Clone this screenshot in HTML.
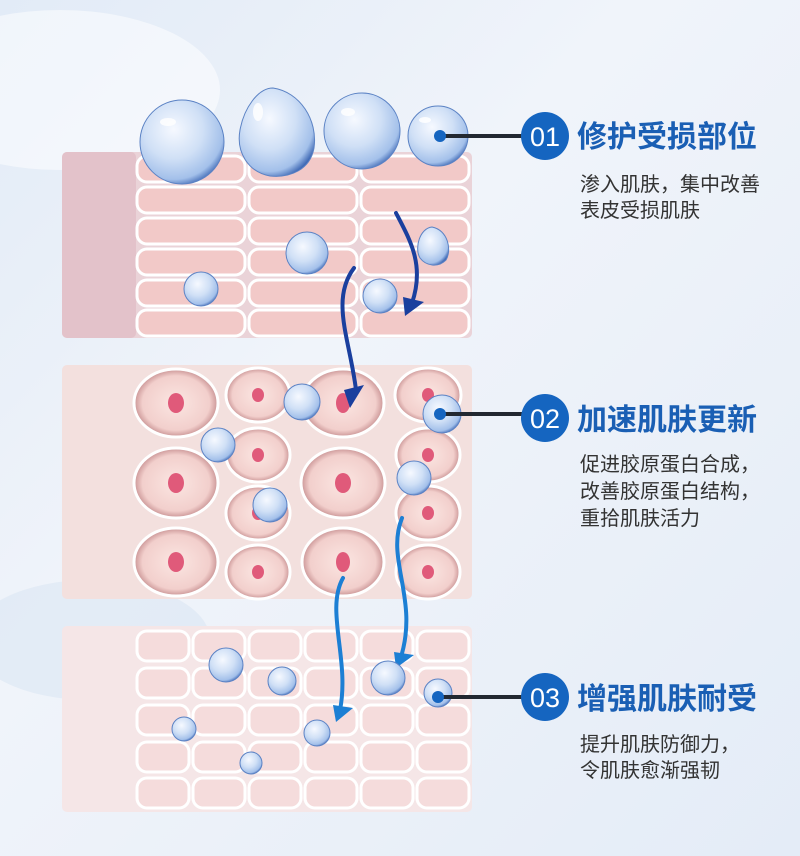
<!DOCTYPE html>
<html><head><meta charset="utf-8"><style>
html,body{margin:0;padding:0;width:800px;height:856px;overflow:hidden}
svg{display:block}
.t{font-family:"Liberation Sans","Noto Sans CJK SC",sans-serif}
</style></head><body>
<svg width="800" height="856" viewBox="0 0 800 856" xmlns="http://www.w3.org/2000/svg">
<defs>
<linearGradient id="bg" x1="0" y1="0" x2="1" y2="1">
<stop offset="0" stop-color="#e2ebf7"/><stop offset="0.4" stop-color="#f0f4fa"/><stop offset="1" stop-color="#e4ecf7"/>
</linearGradient>
<radialGradient id="drop" cx="0.4" cy="0.35" r="0.7">
<stop offset="0" stop-color="#f6f9ff"/><stop offset="0.5" stop-color="#d0e0f6"/><stop offset="0.85" stop-color="#a3c0ea"/><stop offset="1" stop-color="#3d67b4"/>
</radialGradient>
<radialGradient id="oc" cx="0.5" cy="0.5" r="0.5">
<stop offset="0" stop-color="#fbe6e2"/><stop offset="0.8" stop-color="#f2cfcc"/><stop offset="1" stop-color="#c99394"/>
</radialGradient>
</defs>
<rect width="800" height="856" fill="url(#bg)"/>
<ellipse cx="60" cy="90" rx="160" ry="80" fill="#ffffff" opacity="0.5"/>
<ellipse cx="90" cy="640" rx="120" ry="60" fill="#dbe6f3" opacity="0.6"/>

<rect x="62" y="152" width="410" height="186" rx="5" fill="#ead3d8"/>
<rect x="62" y="152" width="74" height="186" rx="5" fill="#e3c2ca"/>
<g fill="#f2c9c8" stroke="#ffffff" stroke-width="3">
<rect x="137" y="156" width="108" height="26" rx="10"/><rect x="249" y="156" width="108" height="26" rx="10"/><rect x="361" y="156" width="108" height="26" rx="10"/>
<rect x="137" y="187" width="108" height="26" rx="10"/><rect x="249" y="187" width="108" height="26" rx="10"/><rect x="361" y="187" width="108" height="26" rx="10"/>
<rect x="137" y="218" width="108" height="26" rx="10"/><rect x="249" y="218" width="108" height="26" rx="10"/><rect x="361" y="218" width="108" height="26" rx="10"/>
<rect x="137" y="249" width="108" height="26" rx="10"/><rect x="249" y="249" width="108" height="26" rx="10"/><rect x="361" y="249" width="108" height="26" rx="10"/>
<rect x="137" y="280" width="108" height="26" rx="10"/><rect x="249" y="280" width="108" height="26" rx="10"/><rect x="361" y="280" width="108" height="26" rx="10"/>
<rect x="137" y="310" width="108" height="26" rx="10"/><rect x="249" y="310" width="108" height="26" rx="10"/><rect x="361" y="310" width="108" height="26" rx="10"/>
</g>

<rect x="62" y="365" width="410" height="234" rx="5" fill="#f3e0de"/>
<g fill="url(#oc)" stroke="#ffffff" stroke-width="3">
<ellipse cx="176" cy="403" rx="42" ry="34"/><ellipse cx="258" cy="395" rx="32" ry="27"/><ellipse cx="343" cy="403" rx="41" ry="34"/><ellipse cx="428" cy="395" rx="33" ry="27"/>
<ellipse cx="258" cy="455" rx="32" ry="27"/><ellipse cx="176" cy="483" rx="42" ry="35"/><ellipse cx="343" cy="483" rx="42" ry="35"/><ellipse cx="428" cy="455" rx="32" ry="27"/>
<ellipse cx="428" cy="513" rx="32" ry="27"/><ellipse cx="258" cy="513" rx="32" ry="27"/>
<ellipse cx="176" cy="562" rx="42" ry="34"/><ellipse cx="258" cy="572" rx="32" ry="27"/><ellipse cx="343" cy="562" rx="41" ry="34"/><ellipse cx="428" cy="572" rx="32" ry="27"/>
</g>
<g fill="#e05a7a">
<ellipse cx="176" cy="403" rx="8" ry="10"/><ellipse cx="258" cy="395" rx="6" ry="7"/><ellipse cx="343" cy="403" rx="7" ry="10"/><ellipse cx="428" cy="395" rx="6" ry="7"/>
<ellipse cx="258" cy="455" rx="6" ry="7"/><ellipse cx="176" cy="483" rx="8" ry="10"/><ellipse cx="343" cy="483" rx="8" ry="10"/><ellipse cx="428" cy="455" rx="6" ry="7"/>
<ellipse cx="428" cy="513" rx="6" ry="7"/><ellipse cx="258" cy="513" rx="6" ry="7"/>
<ellipse cx="176" cy="562" rx="8" ry="10"/><ellipse cx="258" cy="572" rx="6" ry="7"/><ellipse cx="343" cy="562" rx="7" ry="10"/><ellipse cx="428" cy="572" rx="6" ry="7"/>
</g>

<rect x="62" y="626" width="410" height="186" rx="5" fill="#f5e6e7"/>
<g fill="#f5dcdc" stroke="#ffffff" stroke-width="3">
<rect x="137" y="631" width="52" height="30" rx="10"/><rect x="193" y="631" width="52" height="30" rx="10"/><rect x="249" y="631" width="52" height="30" rx="10"/><rect x="305" y="631" width="52" height="30" rx="10"/><rect x="361" y="631" width="52" height="30" rx="10"/><rect x="417" y="631" width="52" height="30" rx="10"/>
<rect x="137" y="668" width="52" height="30" rx="10"/><rect x="193" y="668" width="52" height="30" rx="10"/><rect x="249" y="668" width="52" height="30" rx="10"/><rect x="305" y="668" width="52" height="30" rx="10"/><rect x="361" y="668" width="52" height="30" rx="10"/><rect x="417" y="668" width="52" height="30" rx="10"/>
<rect x="137" y="705" width="52" height="30" rx="10"/><rect x="193" y="705" width="52" height="30" rx="10"/><rect x="249" y="705" width="52" height="30" rx="10"/><rect x="305" y="705" width="52" height="30" rx="10"/><rect x="361" y="705" width="52" height="30" rx="10"/><rect x="417" y="705" width="52" height="30" rx="10"/>
<rect x="137" y="742" width="52" height="30" rx="10"/><rect x="193" y="742" width="52" height="30" rx="10"/><rect x="249" y="742" width="52" height="30" rx="10"/><rect x="305" y="742" width="52" height="30" rx="10"/><rect x="361" y="742" width="52" height="30" rx="10"/><rect x="417" y="742" width="52" height="30" rx="10"/>
<rect x="137" y="778" width="52" height="30" rx="10"/><rect x="193" y="778" width="52" height="30" rx="10"/><rect x="249" y="778" width="52" height="30" rx="10"/><rect x="305" y="778" width="52" height="30" rx="10"/><rect x="361" y="778" width="52" height="30" rx="10"/><rect x="417" y="778" width="52" height="30" rx="10"/>
</g>

<g fill="none" stroke-width="4" stroke-linecap="round">
<path d="M396 213 C410 240 425 265 412 303" stroke="#1a3f9e"/>
<path d="M354 268 C330 300 350 340 356 390" stroke="#1a3f9e"/>
<path d="M343 578 C325 610 350 660 340 710" stroke="#1c7fd4"/>
<path d="M402 518 C385 560 420 600 400 660" stroke="#1c7fd4"/>
</g>
<g stroke="none">
<polygon points="403,297 424,302 405,316" fill="#1a3f9e"/>
<polygon points="344,390 364,385 350,408" fill="#1a3f9e"/>
<polygon points="333,705 353,708 336,722" fill="#1c7fd4"/>
<polygon points="394,652 414,655 396,668" fill="#1c7fd4"/>
</g>

<g fill="url(#drop)" stroke="#5b82c4" stroke-width="1">
<circle cx="182" cy="142" r="42"/>
<path d="M273 88 C300 92 318 120 314 148 C310 170 290 178 270 176 C248 172 236 152 240 130 C244 108 258 88 273 88Z"/>
<circle cx="362" cy="131" r="38"/>
<circle cx="438" cy="136" r="30"/>
<circle cx="307" cy="253" r="21"/>
<circle cx="201" cy="289" r="17"/>
<path d="M432 227 C448 230 452 250 446 260 C438 268 426 266 420 258 C414 248 420 228 432 227Z"/>
<circle cx="380" cy="296" r="17"/>
<circle cx="302" cy="402" r="18"/>
<circle cx="442" cy="414" r="19"/>
<circle cx="218" cy="445" r="17"/>
<circle cx="270" cy="505" r="17"/>
<circle cx="414" cy="478" r="17"/>
<circle cx="226" cy="665" r="17"/>
<circle cx="282" cy="681" r="14"/>
<circle cx="388" cy="678" r="17"/>
<circle cx="438" cy="693" r="14"/>
<circle cx="184" cy="729" r="12"/>
<circle cx="317" cy="733" r="13"/>
<circle cx="251" cy="763" r="11"/>
</g>
<g fill="#ffffff" opacity="0.85">
<ellipse cx="168" cy="122" rx="8" ry="4"/><ellipse cx="258" cy="112" rx="5" ry="9"/><ellipse cx="348" cy="112" rx="7" ry="4"/><ellipse cx="425" cy="120" rx="6" ry="3"/>
</g>

<g stroke="#222831" stroke-width="4">
<line x1="440" y1="136" x2="526" y2="136"/>
<line x1="440" y1="414" x2="526" y2="414"/>
<line x1="438" y1="697" x2="526" y2="697"/>
</g>
<g fill="#1565c0">
<circle cx="440" cy="136" r="6"/><circle cx="440" cy="414" r="6"/><circle cx="438" cy="697" r="6"/>
<circle cx="545" cy="136" r="24"/><circle cx="545" cy="418" r="24"/><circle cx="545" cy="697" r="24"/>
</g>
<g class="t" fill="#ffffff" font-size="27" text-anchor="middle">
<text x="545" y="146">01</text><text x="545" y="428">02</text><text x="545" y="707">03</text>
</g>
<g class="t" fill="#1a5fb4" font-size="30" font-weight="bold">
<text x="577" y="147">修护受损部位</text>
<text x="577" y="430">加速肌肤更新</text>
<text x="577" y="709">增强肌肤耐受</text>
</g>
<g class="t" fill="#333333" font-size="20">
<text x="580" y="191">渗入肌肤，集中改善</text>
<text x="580" y="217">表皮受损肌肤</text>
<text x="580" y="471">促进胶原蛋白合成，</text>
<text x="580" y="498">改善胶原蛋白结构，</text>
<text x="580" y="525">重拾肌肤活力</text>
<text x="580" y="751">提升肌肤防御力，</text>
<text x="580" y="777">令肌肤愈渐强韧</text>
</g>
</svg>
</body></html>
